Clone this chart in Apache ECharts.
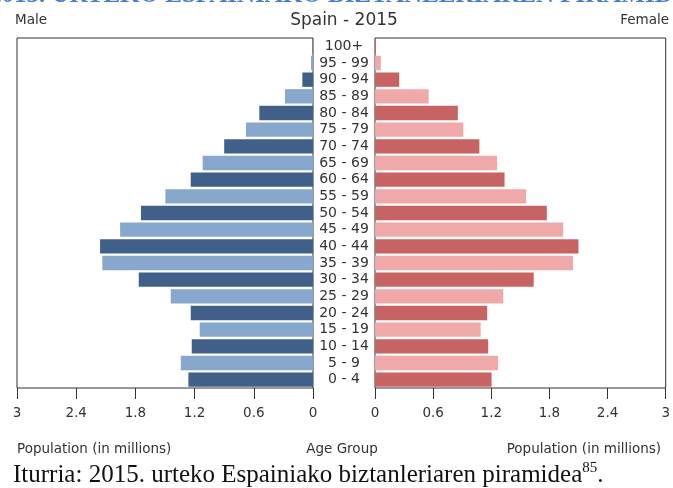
<!DOCTYPE html>
<html>
<head>
<meta charset="utf-8">
<script src="https://cdn.jsdelivr.net/npm/echarts@6/dist/echarts.min.js"></script>
<style>
html,body{margin:0;padding:0;background:#fff;}
#c{width:673px;height:488px;}
</style>
</head>
<body>
<div id="c"></div>
<script>
var ageGroups = ['0 - 4','5 - 9','10 - 14','15 - 19','20 - 24','25 - 29','30 - 34','35 - 39','40 - 44','45 - 49','50 - 54','55 - 59','60 - 64','65 - 69','70 - 74','75 - 79','80 - 84','85 - 89','90 - 94','95 - 99','100+'];
var maleValues = [1.263,1.34,1.229,1.148,1.239,1.442,1.766,2.135,2.158,1.955,1.743,1.496,1.239,1.118,0.90,0.679,0.544,0.284,0.108,0.02,0.004];
var femaleValues = [1.203,1.27,1.168,1.091,1.158,1.324,1.638,2.043,2.10,1.942,1.773,1.56,1.337,1.26,1.077,0.912,0.855,0.554,0.25,0.06,0.01];
var xTicks = [0, 0.6, 1.2, 1.8, 2.4, 3];

var chart = echarts.init(document.getElementById('c'));
var maleDark = '#40608a', maleLight = '#87a7cc';
var femDark = '#c86363', femLight = '#f0a9a9';
function items(vals, dark, light){
  return vals.map(function(v,i){ return {value:v, itemStyle:{color: i%2===0 ? dark : light}}; });
}
function fmt(v){ return String(Math.round(v*10)/10); }
var axisTxt = {color:'#333', fontSize:13.5, fontFamily:'DejaVu Sans', margin:18, formatter:fmt};
var tick = {show:true, length:11, inside:false, lineStyle:{color:'#333'}};
var txt = '#333';
var small = '13.5px "DejaVu Sans"';
chart.setOption({
  animation:false,
  grid:[
    {left:17, top:38, width:296, height:350, show:true, borderColor:'#333', borderWidth:1, backgroundColor:'#fff'},
    {left:375, top:38, width:296, height:350, show:true, borderColor:'#333', borderWidth:1, backgroundColor:'#fff'}
  ],
  xAxis:[
    {gridIndex:0, type:'value', min:0, max:3, interval:0.6, inverse:true,
     axisLine:{show:false}, axisTick:tick, splitLine:{show:false}, axisLabel:axisTxt},
    {gridIndex:1, type:'value', min:0, max:3, interval:0.6,
     axisLine:{show:false}, axisTick:tick, splitLine:{show:false}, axisLabel:axisTxt}
  ],
  yAxis:[
    {gridIndex:0, type:'category', data:ageGroups, position:'right',
     axisLine:{show:false}, axisTick:{show:false}, axisLabel:{show:false}},
    {gridIndex:1, type:'category', data:ageGroups, position:'left',
     axisLine:{show:false}, axisTick:{show:false},
     axisLabel:{show:true, interval:0, align:'center', margin:31, color:'#333', fontSize:14, fontFamily:'DejaVu Sans'}}
  ],
  series:[
    {type:'bar', xAxisIndex:0, yAxisIndex:0, data:items(maleValues, maleDark, maleLight), barCategoryGap:'14%'},
    {type:'bar', xAxisIndex:1, yAxisIndex:1, data:items(femaleValues, femDark, femLight), barCategoryGap:'14%'}
  ],
  graphic:[
    {type:'text', x:-11, y:8, style:{text:'2015. URTEKO ESPAINIAKO BIZTANLERIAREN PIRAMIDEA', fill:'#4a7fd0', font:'bold 25px "Liberation Serif"', verticalAlign:'bottom'}},
    {type:'text', x:15, y:13, style:{text:'Male', fill:txt, font:small}},
    {type:'text', x:344, y:12, style:{text:'Spain - 2015', fill:txt, font:'17px "DejaVu Sans"', align:'center'}},
    {type:'text', x:669, y:13, style:{text:'Female', fill:txt, font:small, align:'right'}},
    {type:'text', x:17, y:442, style:{text:'Population (in millions)', fill:txt, font:small}},
    {type:'text', x:342, y:442, style:{text:'Age Group', fill:txt, font:small, align:'center'}},
    {type:'text', x:661, y:442, style:{text:'Population (in millions)', fill:txt, font:small, align:'right'}},
    {type:'text', x:13, y:461, style:{
      text:'{a|Iturria: 2015. urteko Espainiako biztanleriaren piramidea}{s|85}{a|.}',
      rich:{a:{fontFamily:'Liberation Serif', fontSize:25, fill:'#111', color:'#111', verticalAlign:'bottom'},
            s:{fontFamily:'Liberation Serif', fontSize:15, fill:'#111', color:'#111', verticalAlign:'top', padding:[0,0,12,0]}}
    }}
  ]
});
</script>
</body>
</html>
